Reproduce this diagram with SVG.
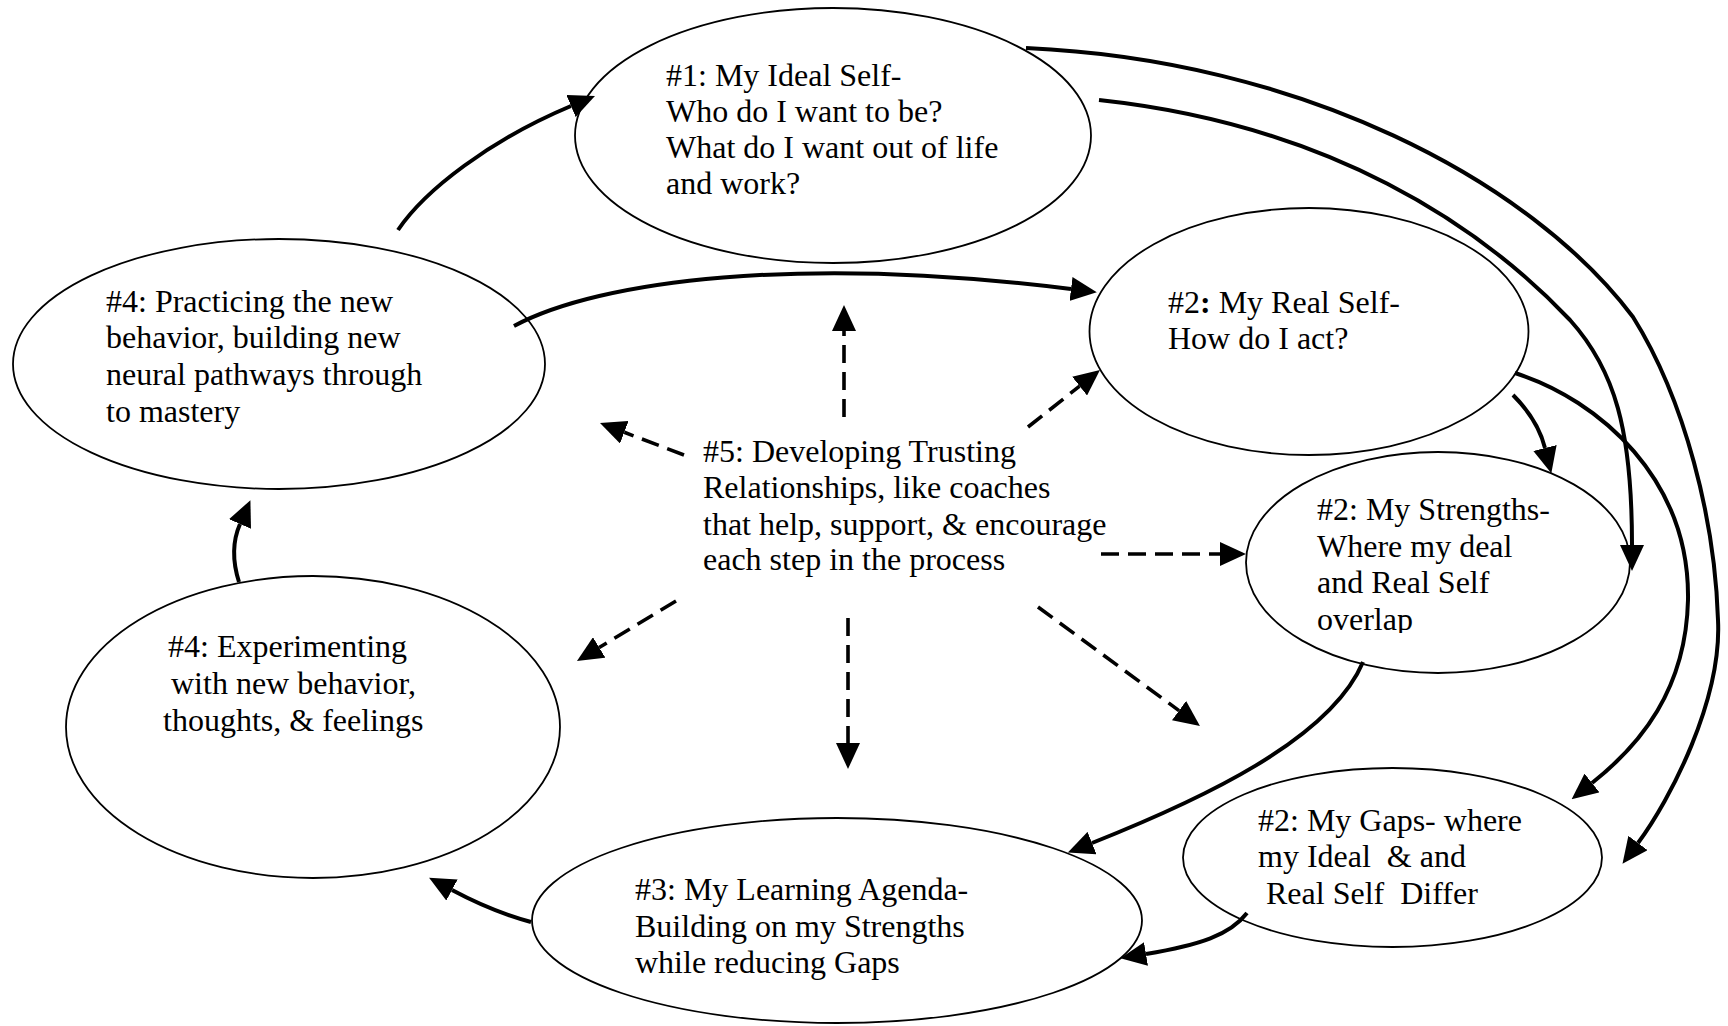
<svg xmlns="http://www.w3.org/2000/svg" width="1728" height="1026" viewBox="0 0 1728 1026">
<defs>
<style>
.node ellipse{fill:#fff;stroke:#000;stroke-width:1.8}
text{font-family:"Liberation Serif","Times New Roman",serif;font-size:32px;fill:#000;white-space:pre}
.conn path{fill:none;stroke:#000;stroke-width:4}
.conn path.dash{stroke-width:3.6;stroke-dasharray:18 9}
</style>
<marker id="ah" markerUnits="userSpaceOnUse" viewBox="0 0 26 24" markerWidth="26" markerHeight="24" refX="0" refY="12" orient="auto">
<path d="M0,0 L26,12 L0,24 z" fill="#000"/>
</marker>
<clipPath id="clipOverlap"><rect x="1200" y="400" width="500" height="233"/></clipPath>
</defs>
<rect width="1728" height="1026" fill="#fff"/>

<g id="node-ideal" class="node">
<ellipse cx="833" cy="135.5" rx="258" ry="127.5"/>
<text x="666" y="86">#1: My Ideal Self-</text>
<text x="666" y="122">Who do I want to be?</text>
<text x="666" y="158">What do I want out of life</text>
<text x="666" y="194">and work?</text>
</g>

<g id="node-real" class="node">
<ellipse cx="1309" cy="331.5" rx="219.5" ry="123.5"/>
<text x="1168" y="313">#2<tspan font-weight="bold">:</tspan> My Real Self-</text>
<text x="1168" y="349">How do I act?</text>
</g>

<g id="node-strengths" class="node">
<ellipse cx="1438" cy="562.5" rx="192" ry="110.5"/>
<g clip-path="url(#clipOverlap)">
<text x="1317" y="520">#2: My Strengths-</text>
<text x="1317" y="557">Where my deal</text>
<text x="1317" y="593">and Real Self</text>
<text x="1317" y="630">overlap</text>
</g>
</g>

<g id="node-gaps" class="node">
<ellipse cx="1392.5" cy="857.5" rx="209.5" ry="89.5"/>
<text x="1258" y="831">#2: My Gaps- where</text>
<text x="1258" y="867">my Ideal  &amp; and</text>
<text x="1258" y="904"> Real Self  Differ</text>
</g>

<g id="node-agenda" class="node">
<ellipse cx="837" cy="920.5" rx="305" ry="102.5"/>
<text x="635" y="900">#3: My Learning Agenda-</text>
<text x="635" y="937">Building on my Strengths</text>
<text x="635" y="973">while reducing Gaps</text>
</g>

<g id="node-experimenting" class="node">
<ellipse cx="313" cy="727" rx="247" ry="151"/>
<text x="168" y="657">#4: Experimenting</text>
<text x="163" y="694"> with new behavior,</text>
<text x="163" y="731">thoughts, &amp; feelings</text>
</g>

<g id="node-practicing" class="node">
<ellipse cx="279" cy="364" rx="266" ry="125"/>
<text x="106" y="312">#4: Practicing the new</text>
<text x="106" y="348">behavior, building new</text>
<text x="106" y="385">neural pathways through</text>
<text x="106" y="422">to mastery</text>
</g>

<g id="node-relationships">
<text x="703" y="462">#5: Developing Trusting</text>
<text x="703" y="498">Relationships, like coaches</text>
<text x="703" y="535">that help, support, &amp; encourage</text>
<text x="703" y="570">each step in the process</text>
</g>

<g id="connectors" class="conn">
<path marker-end="url(#ah)" d="M398,230 C425,190 490,140 571,106"/>
<path marker-end="url(#ah)" d="M514,326 C600,280 800,255 1071,289"/>
<path marker-end="url(#ah)" d="M1099,100 C1330,125 1480,225 1570,320 C1615,370 1632,430 1632,545"/>
<path marker-end="url(#ah)" d="M1026,48 C1300,60 1530,180 1633,317 C1685,400 1715,520 1718,620 C1722,700 1670,800 1638,843"/>
<path marker-end="url(#ah)" d="M1515,373 C1600,400 1690,480 1688,600 C1686,690 1640,745 1592,783"/>
<path marker-end="url(#ah)" d="M1513,395 C1528,410 1540,428 1545,448"/>
<path marker-end="url(#ah)" d="M1363,662 C1330,740 1200,800 1092,843"/>
<path marker-end="url(#ah)" d="M1247,913 C1230,935 1200,945 1146,954"/>
<path marker-end="url(#ah)" d="M531,922 C505,915 480,905 452,890"/>
<path marker-end="url(#ah)" d="M239,582 C232,560 233,540 240,524"/>

<path class="dash" marker-end="url(#ah)" d="M844,417 L844,331"/>
<path class="dash" marker-end="url(#ah)" d="M684,455 L624.3,432.3"/>
<path class="dash" marker-end="url(#ah)" d="M1028,427 L1079.6,386.1"/>
<path class="dash" marker-end="url(#ah)" d="M1101,554 L1220,554"/>
<path class="dash" marker-end="url(#ah)" d="M1038,607 L1179,710.6"/>
<path class="dash" marker-end="url(#ah)" d="M848,618 L848,743"/>
<path class="dash" marker-end="url(#ah)" d="M676,601 L599.2,647.5"/>
</g>
</svg>
